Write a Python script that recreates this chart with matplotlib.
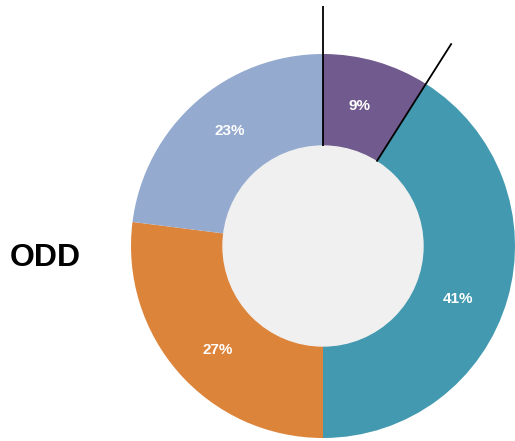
import matplotlib.pyplot as plt
import numpy as np

labels = ['9%', '41%', '27%', '23%']
values = [9, 41, 27, 23]
colors = ['#715a8e', '#4399b0', '#dd843b', '#94aacf']
title = 'ODD'

W, H = 515, 441
cx, cy = 323, H - 246
r_out, r_in = 192, 100
# small pixel nudges for the percent labels (x right, y up)
label_nudge = [(-4, 0), (-5.5, -12.3), (3.8, -7.5), (3.5, 5.5)]

fig = plt.figure(figsize=(W / 100, H / 100), dpi=100)
ax = fig.add_axes([0, 0, 1, 1])

wedges, _ = ax.pie(values, colors=colors, startangle=90, counterclock=False,
                   center=(cx, cy), radius=r_out, frame=True,
                   wedgeprops=dict(linewidth=0))
ax.set_xlim(0, W)
ax.set_ylim(0, H)
ax.set_aspect('equal')
ax.axis('off')

# grey hole
ax.add_patch(plt.Circle((cx, cy), r_in, color='#f0f0f0', zorder=3))

# percent labels
r_mid = (r_in + r_out) / 2
cum = np.cumsum([0] + values)
for i, lab in enumerate(labels):
    ang = np.radians(90 - 3.6 * (cum[i] + values[i] / 2))
    dx, dy = label_nudge[i]
    ax.text(cx + r_mid * np.cos(ang) + dx, cy + r_mid * np.sin(ang) + dy, lab,
            color='white', fontsize=11, fontweight='bold',
            family='Liberation Sans', ha='center', va='center', zorder=4)

# lines marking the first slice
for v in [0, values[0]]:
    ang = np.radians(90 - 3.6 * v)
    ax.plot([cx + r_in * np.cos(ang), cx + 240 * np.cos(ang)],
            [cy + r_in * np.sin(ang), cy + 240 * np.sin(ang)],
            color='black', lw=1.3, zorder=5, solid_capstyle='butt')

ax.text(10, H - 265.5, title, fontsize=23, fontweight='bold',
        family='Liberation Sans', ha='left', va='baseline')

fig.savefig('out.png', dpi=100)
